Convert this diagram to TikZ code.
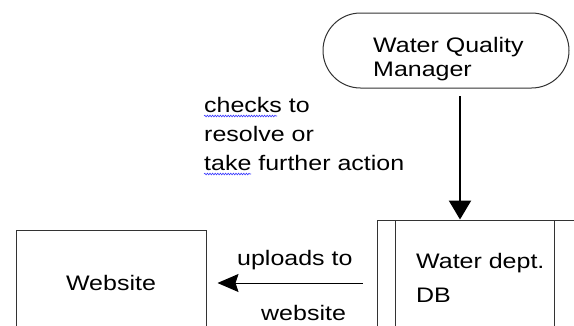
\documentclass[tikz,border=0pt]{standalone}
\usepackage{fontspec}
\setmainfont{Liberation Sans}[FakeStretch=1.19]
\usetikzlibrary{shapes.misc,arrows.meta,decorations.pathmorphing}

\begin{document}
\begin{tikzpicture}[x=1pt,y=-1pt,
  outline/.style={draw=black!80,line width=1pt},
  label/.style={inner sep=0pt,anchor=base west,font=\fontsize{21}{25}\selectfont},
  flow/.style={draw=black,line width=1pt,-{Stealth[length=21pt,width=18pt,inset=3pt]}},
  thickflow/.style={draw=black,line width=2.5pt,-{Triangle[length=19pt,width=22pt]}},
  squiggle/.style={draw=blue!80,line width=0.6pt,decorate,
    decoration={snake,amplitude=0.8pt,segment length=2.6pt}}]

\useasboundingbox (0,0) rectangle (574,325);
\clip (0,0) rectangle (574,325);
\fill[white] (0,0) rectangle (574,325);

% terminator
\node[outline,rounded rectangle,minimum width=246pt,minimum height=75pt,inner sep=0pt]
  (wqm) at (446,50.5) {};
\node[label] (wqm1) at (373,52) {Water Quality};
\node[label] (wqm2) at (373,76) {Manager};

% predefined-process store (runs past the page edge)
\node[outline,rectangle,minimum width=213pt,minimum height=140pt,inner sep=0pt]
  (db) at (483.5,290) {};
\draw[outline] (395,220) -- (395,330);
\draw[outline] (554,220) -- (554,330);
\node[label] (db1) at (416,268) {Water dept.};
\node[label] (db2) at (416,302) {DB};

% website box
\node[outline,rectangle,minimum width=190pt,minimum height=106pt,inner sep=0pt,
  font=\fontsize{21}{25}\selectfont] (web) at (111,283) {Website};

% connectors
\coordinate (vtop) at (460,96);
\draw[thickflow] (vtop) -- (vtop |- db.north);

\coordinate (hrow) at (0,283);
\draw[flow,shorten <=14pt,shorten >=11pt] (db.west |- hrow) -- (web.east |- hrow);

% connector labels
\node[label] (c1) at (204,112) {checks to};
\node[label] (c2) at (204,141) {resolve or};
\node[label] (c3) at (204,170) {take further action};
\draw[squiggle] ([yshift=-4pt]c1.base west) -- ++(73,0);
\draw[squiggle] ([yshift=-4pt]c3.base west) -- ++(47,0);

\node[label] (u1) at (237,265) {uploads to};
\node[label] (u2) at (261,320) {website};

\end{tikzpicture}
\end{document}
